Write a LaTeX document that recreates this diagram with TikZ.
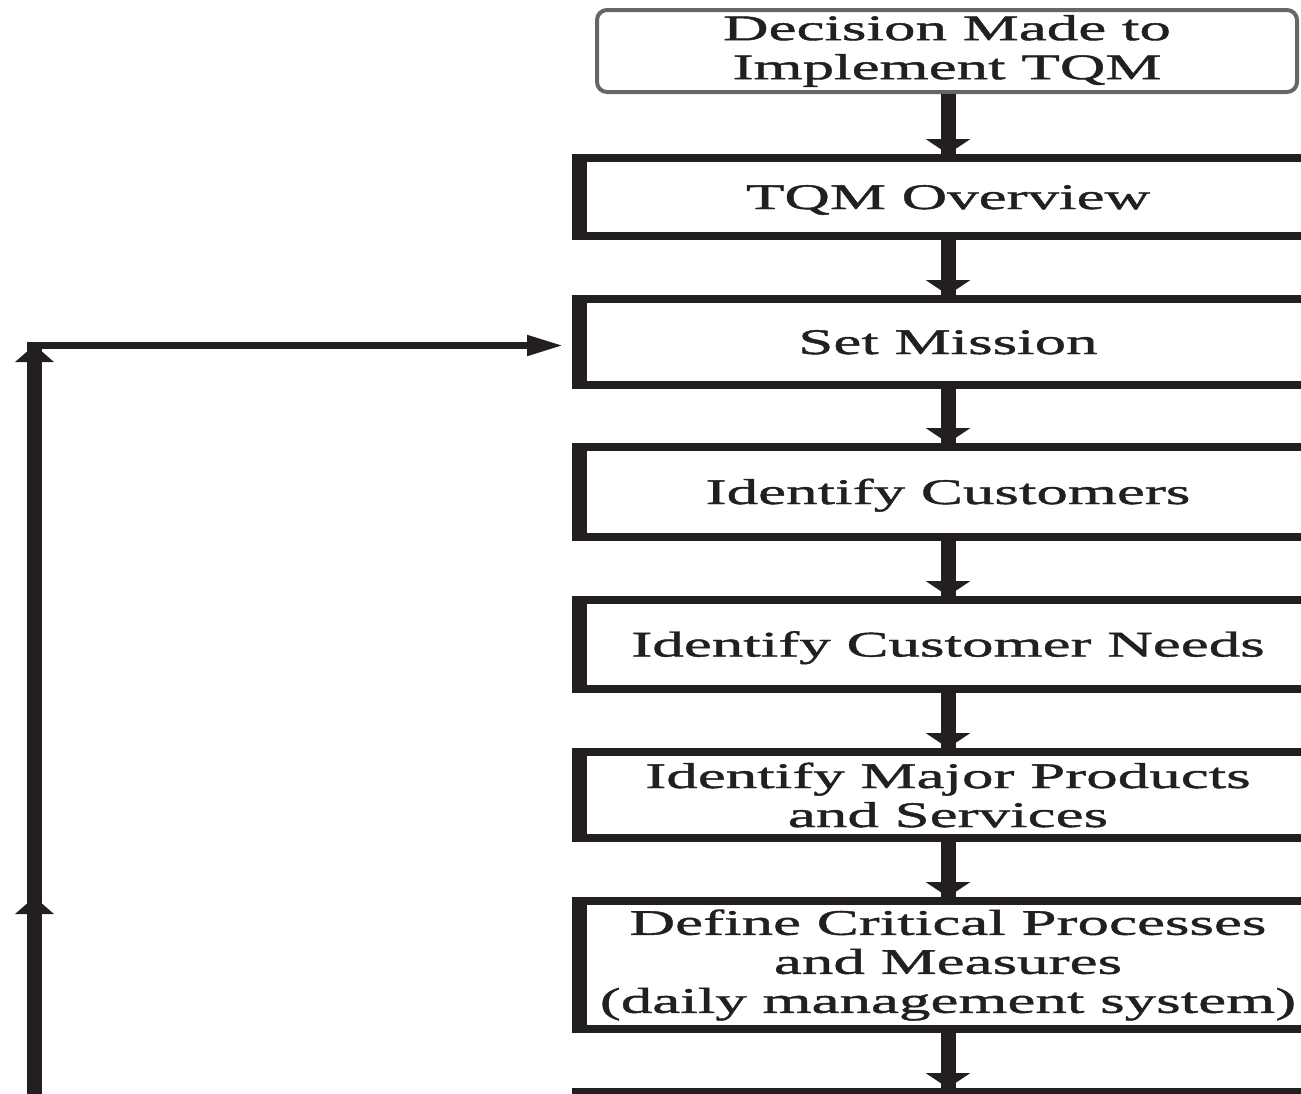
\documentclass[tikz,border=0pt]{standalone}
\usepackage{fontspec}
\setmainfont{Liberation Serif}[FakeStretch=1.75, FakeBold=1.2]
\usetikzlibrary{arrows.meta}

\definecolor{ink}{HTML}{231F20}
\newcommand\boxfont{\fontsize{18pt}{19.5pt}\selectfont}

\tikzset{
  startbox/.style={draw=black!60, line width=2pt, rounded corners=5pt,
    outer sep=1pt, inner sep=0pt, minimum width=350pt, minimum height=41pt,
    align=center, font=\boxfont, text=ink},
  stepbox/.style={draw=ink, line width=4pt, outer sep=2pt, inner sep=0pt,
    minimum width=372pt, align=center, font=\boxfont, text=ink},
  oneline/.style={text height=12pt, text depth=0pt},
  leftrule/.style={draw=ink, line width=7.5pt},
  flow/.style={draw=ink, line width=7.5pt, -{Triangle[length=7.5pt,width=22pt]},
    postaction={draw, arrows=-}},
  upflow/.style={draw=ink, line width=7.5pt, -{Triangle[length=8.5pt,width=19pt]},
    postaction={draw, arrows=-}},
  back/.style={draw=ink, line width=3.75pt, -{Triangle[length=18.5pt,width=9.5pt]},
    shorten >=4pt},
}

\begin{document}
\begin{tikzpicture}[x=0.5pt, y=-0.5pt]
\useasboundingbox (0,0) rectangle (1301,1093);
\begin{scope}[overlay]
\clip (0,0) rectangle (1301,1093);

% process steps
\node[startbox] (start) at (947,51) {Decision Made to\\Implement TQM};
\node[stepbox, oneline, minimum height=39pt]  (overview)  at (948,197)   {TQM Overview};
\node[stepbox, oneline, minimum height=43pt]  (mission)   at (948,342)   {Set Mission};
\node[stepbox, oneline, minimum height=45pt]  (customers) at (948,492)   {Identify Customers};
\node[stepbox, oneline, minimum height=44.5pt] (needs)    at (948,644.5) {Identify Customer Needs};
\node[stepbox, minimum height=43pt]  (products)  at (948,795)   {Identify Major Products\\and Services};
\node[stepbox, minimum height=64pt]  (processes) at (948,965)   {Define Critical Processes\\and Measures\\(daily management system)};
\node[stepbox, minimum height=60pt]  (nextstep)  at (948,1152)  {};

% heavier left edge of each step box
\foreach \bx in {overview,mission,customers,needs,products,processes,nextstep}
  \draw[leftrule] ([xshift=3.75pt,yshift=-2pt]\bx.north west) -- ([xshift=3.75pt,yshift=2pt]\bx.south west);

% main flow
\draw[flow] (start.south -| overview.north) -- (overview.north);
\draw[flow] (overview.south) -- (mission.north);
\draw[flow] (mission.south) -- (customers.north);
\draw[flow] (customers.south) -- (needs.north);
\draw[flow] (needs.south) -- (products.north);
\draw[flow] (products.south) -- (processes.north);
\draw[flow] (processes.south) -- (nextstep.north);

% feedback loop back to the mission
\coordinate (loopBottom) at (34.5,1110);
\coordinate (loopMid)    at (34.5,897);
\coordinate (loopTop)    at (34.5,345);
\coordinate (loopCorner) at (27,345.5);
\draw[upflow] (loopBottom) -- (loopMid);
\draw[upflow] (loopMid) -- (loopTop);
\draw[back] (loopCorner) -- (loopCorner -| mission.west);
\end{scope}
\end{tikzpicture}
\end{document}
